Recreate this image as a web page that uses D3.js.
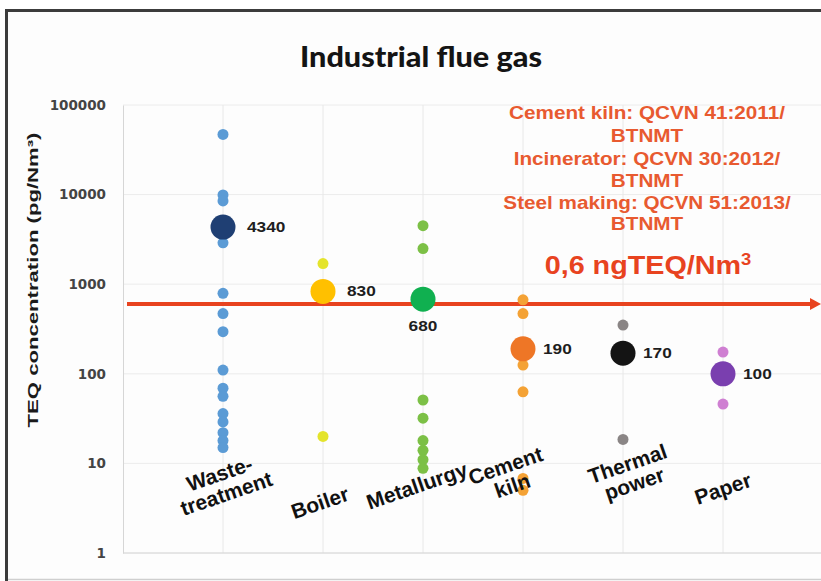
<!DOCTYPE html>
<html>
<head>
<meta charset="utf-8">
<script src="https://cdn.jsdelivr.net/npm/d3@7"></script>
<style>
  html, body { margin: 0; padding: 0; background: #ffffff; }
  svg { display: block; }
</style>
</head>
<body>
<svg id="chart" width="821" height="581"></svg>
<script>
// ---------------- DATA ----------------
const categories = ["Waste-treatment", "Boiler", "Metallurgy", "Cement kiln", "Thermal power", "Paper"];
const categoryLabelLines = [["Waste-", "treatment"], ["Boiler"], ["Metallurgy"], ["Cement", "kiln"], ["Thermal", "power"], ["Paper"]];
const wasteTreatmentValues = [47000, 9900, 8500, 2900, 790, 470, 295, 110, 69, 56, 36, 29, 22, 18, 15];
const boilerValues = [1700, 20];
const metallurgyValues = [4500, 2500, 51, 32, 18, 14, 11, 8.8];
const cementKilnValues = [670, 470, 125, 63, 6.8, 5];
const thermalPowerValues = [350, 18.5];
const paperValues = [175, 46];
const meanValues = [4340, 830, 680, 190, 170, 100];
const yTickValues = [1, 10, 100, 1000, 10000, 100000];
const limitValue = 600;
const titleText = "Industrial flue gas";
const yAxisTitle = "TEQ concentration (pg/Nm³)";
const standardLines = ["Cement kiln: QCVN 41:2011/", "BTNMT", "Incinerator: QCVN 30:2012/", "BTNMT", "Steel making: QCVN 51:2013/", "BTNMT"];
const limitLabel = "0,6 ngTEQ/Nm";

// ---------------- STYLE / LAYOUT ----------------
const seriesValues = [wasteTreatmentValues, boilerValues, metallurgyValues, cementKilnValues, thermalPowerValues, paperValues];
const pointColors = ["#5B9BD5", "#E4E42C", "#7CC046", "#F4A235", "#8A8585", "#CF7FD2"];
const meanColors = ["#1F3F73", "#FFC000", "#10B050", "#EE7626", "#141414", "#7A3FAF"];
const meanLabelOffsets = [[24, 0], [24, 0], [0, 27], [20, 0], [20, 0], [20, 0]];
const catLabelOffsets = [[0, 484], [-3, 503], [-6, 486], [-14, 476], [8, 474], [0, 489]];
const SX = 1.15; // horizontal stretch of the original picture's text
const red = "#E8431F";

const svg = d3.select("#chart");
const W = 821, H = 581;

// frame
svg.append("rect").attr("x", 0).attr("y", 0).attr("width", W).attr("height", H).attr("fill", "#ffffff");
svg.append("rect").attr("x", 7).attr("y", 11).attr("width", W).attr("height", 568).attr("fill", "#fdfdfd");
svg.append("line").attr("x1", 6.5).attr("x2", 6.5).attr("y1", 9).attr("y2", 581).attr("stroke", "#3c3c3c").attr("stroke-width", 3);
svg.append("line").attr("x1", 5).attr("x2", W).attr("y1", 10.5).attr("y2", 10.5).attr("stroke", "#3c3c3c").attr("stroke-width", 3);
svg.append("line").attr("x1", 8).attr("x2", W).attr("y1", 579.5).attr("y2", 579.5).attr("stroke", "#cfcfcf").attr("stroke-width", 1.5);

// scales
const x = d3.scaleLinear().domain([0, 7]).range([123, 823]);
const y = d3.scaleLog().domain([1, 100000]).range([553, 105]);

// gridlines
svg.append("g").selectAll("line").data(yTickValues).join("line")
  .attr("x1", 123).attr("x2", W).attr("y1", d => y(d)).attr("y2", d => y(d))
  .attr("stroke", "#ececec").attr("stroke-width", 1);
svg.append("g").selectAll("line").data(categories).join("line")
  .attr("x1", (d, i) => x(i + 1)).attr("x2", (d, i) => x(i + 1))
  .attr("y1", y(100000)).attr("y2", y(1))
  .attr("stroke", "#e8e8e8").attr("stroke-width", 1);

// y axis
const yAxis = d3.axisLeft(y).tickValues(yTickValues).tickFormat(d3.format("d")).tickSize(0).tickPadding(17);
const yAxisG = svg.append("g").attr("transform", "translate(123,0)").call(yAxis);
yAxisG.select(".domain").attr("stroke", "#d6d6d6");
yAxisG.selectAll("text").attr("font-family", "DejaVu Sans").attr("font-weight", "bold")
  .attr("font-size", 13.5).attr("fill", "#444");
// x axis baseline
svg.append("line").attr("x1", 123).attr("x2", W).attr("y1", y(1)).attr("y2", y(1)).attr("stroke", "#d6d6d6");

// title
svg.append("text").attr("x", 421).attr("y", 67).attr("text-anchor", "middle")
  .attr("font-family", "Lato").attr("font-weight", "900").attr("font-size", 29)
  .attr("textLength", 242).attr("lengthAdjust", "spacingAndGlyphs")
  .attr("fill", "#141414").text(titleText);

// y axis title
svg.append("text").attr("transform", "translate(38,280) rotate(-90)").attr("text-anchor", "middle")
  .attr("font-family", "Liberation Sans").attr("font-weight", "bold").attr("font-size", 15)
  .attr("textLength", 295).attr("lengthAdjust", "spacingAndGlyphs")
  .attr("fill", "#1a1a1a").text(yAxisTitle);

// limit line with arrow
svg.append("line").attr("x1", 127).attr("x2", 812).attr("y1", y(limitValue)).attr("y2", y(limitValue))
  .attr("stroke", red).attr("stroke-width", 4);
svg.append("path")
  .attr("d", `M810,${y(limitValue) - 6} L821,${y(limitValue)} L810,${y(limitValue) + 6} Z`)
  .attr("fill", red);

// standard annotations
const annotY = [119, 142, 165, 187, 209, 230];
standardLines.forEach((t, i) => {
  svg.append("g").attr("transform", `translate(647,${annotY[i]}) scale(${SX},1)`)
    .append("text").attr("text-anchor", "middle")
    .attr("font-family", "Liberation Sans").attr("font-weight", "bold").attr("font-size", 18)
    .attr("fill", "#E85A30").text(t);
});
const limG = svg.append("g").attr("transform", `translate(648,274) scale(${SX},1)`);
const limT = limG.append("text").attr("text-anchor", "middle")
  .attr("font-family", "Liberation Sans").attr("font-weight", "bold").attr("font-size", 25)
  .attr("fill", red);
limT.append("tspan").text(limitLabel);
limT.append("tspan").attr("dy", -9).attr("font-size", 16).text("3");

// points
seriesValues.forEach((vals, i) => {
  svg.append("g").selectAll("circle").data(vals).join("circle")
    .attr("cx", x(i + 1)).attr("cy", d => y(d)).attr("r", 5.5)
    .attr("fill", pointColors[i]);
});
// means
svg.append("g").selectAll("circle").data(meanValues).join("circle")
  .attr("cx", (d, i) => x(i + 1)).attr("cy", d => y(d)).attr("r", 12.5)
  .attr("fill", (d, i) => meanColors[i]);
meanValues.forEach((v, i) => {
  const [dx, dy] = meanLabelOffsets[i];
  svg.append("g").attr("transform", `translate(${x(i + 1) + dx},${y(v) + dy + 5}) scale(${SX},1)`)
    .append("text").attr("text-anchor", dx === 0 ? "middle" : "start")
    .attr("font-family", "Liberation Sans").attr("font-weight", "bold").attr("font-size", 15)
    .attr("fill", "#1e1e1e").text(d3.format("d")(v));
});

// category labels
categoryLabelLines.forEach((lines, i) => {
  const [dx, cy] = catLabelOffsets[i];
  const g = svg.append("g").attr("transform", `translate(${x(i + 1) + dx},${cy}) rotate(-19)`);
  const n = lines.length;
  lines.forEach((t, j) => {
    g.append("text").attr("text-anchor", "middle")
      .attr("x", 0).attr("y", 7 + (j - (n - 1) / 2) * 21)
      .attr("font-family", "Liberation Sans").attr("font-weight", "bold").attr("font-size", 21)
      .attr("fill", "#111").text(t);
  });
});
</script>
</body>
</html>
